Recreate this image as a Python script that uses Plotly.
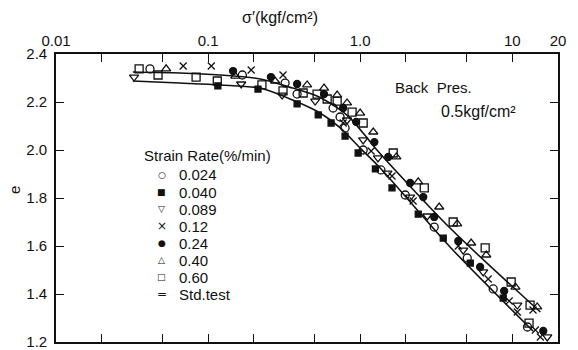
import plotly.graph_objects as go

# ---- data (sigma' in kgf/cm2, void ratio e) ----
sig_0024 = [0.0415, 0.168, 0.321, 0.385, 0.664, 0.738, 0.796, 1.047, 1.37, 1.98, 3.07, 5.06, 7.50, 12.6]
e_0024 = [2.338, 2.3125, 2.279, 2.233, 2.175, 2.1375, 2.092, 2.0, 1.917, 1.8125, 1.679, 1.55, 1.421, 1.2625]

sig_0040 = [0.116, 0.213, 0.385, 0.530, 0.644, 0.796, 0.970, 1.26, 1.62, 2.41, 3.52, 5.30, 8.73]
e_0040 = [2.267, 2.254, 2.192, 2.146, 2.1125, 2.058, 1.9875, 1.921, 1.842, 1.733, 1.633, 1.529, 1.383]

sig_0089 = [0.0326, 0.165, 0.307, 0.506, 0.820, 1.047, 1.31, 1.51, 2.13, 2.76, 4.76, 6.44, 10.8, 17.0]
e_0089 = [2.304, 2.275, 2.229, 2.204, 2.125, 2.042, 1.967, 1.904, 1.804, 1.725, 1.583, 1.492, 1.354, 1.221]

sig_012 = [0.0686, 0.105, 0.192, 0.311, 0.773, 1.18, 1.62, 2.23, 4.42, 6.95, 9.55, 10.8, 13.7, 14.2, 15.3]
e_012 = [2.350, 2.350, 2.333, 2.3125, 2.1125, 1.996, 1.892, 1.7875, 1.60, 1.4625, 1.371, 1.325, 1.333, 1.25, 1.221]

sig_024 = [0.146, 0.259, 0.385, 0.579, 0.773, 0.942, 1.24, 1.53, 2.13, 2.60, 3.07, 4.42, 6.15, 8.85, 16.0]
e_024 = [2.329, 2.304, 2.275, 2.233, 2.175, 2.117, 2.033, 1.971, 1.8625, 1.804, 1.721, 1.621, 1.5125, 1.4125, 1.246]

sig_040 = [0.0530, 0.151, 0.276, 0.448, 0.579, 0.706, 0.820, 1.0, 1.22, 1.73, 2.41, 3.31, 4.35, 5.37, 6.75, 10.5, 14.6]
e_040 = [2.338, 2.308, 2.2875, 2.271, 2.258, 2.229, 2.196, 2.154, 2.075, 1.971, 1.867, 1.7625, 1.692, 1.6125, 1.5625, 1.429, 1.346]

sig_060 = [0.0352, 0.0469, 0.0834, 0.115, 0.226, 0.311, 0.422, 0.521, 0.607, 0.706, 0.885, 1.047, 1.65, 2.64, 4.09, 6.64, 9.84, 13.1, 12.9]
e_060 = [2.338, 2.3125, 2.304, 2.2875, 2.271, 2.246, 2.2375, 2.233, 2.2125, 2.204, 2.158, 2.1125, 1.9875, 1.842, 1.70, 1.592, 1.45, 1.354, 1.279]

# standard test curves
std_upper_sig = [0.032, 0.065, 0.12, 0.22, 0.36, 0.52, 0.74, 0.86, 1.08, 1.29, 3.9, 15.3]
std_upper_e = [2.325, 2.321, 2.3125, 2.296, 2.258, 2.225, 2.167, 2.133, 2.06, 2.0, 1.675, 1.325]
std_lower_sig = [0.032, 0.065, 0.12, 0.22, 0.36, 0.545, 0.74, 1.0, 1.355, 3.9, 13.7]
std_lower_e = [2.2875, 2.279, 2.271, 2.258, 2.208, 2.154, 2.092, 2.008, 1.925, 1.596, 1.246]

x_tickvals = [0.01, 0.02, 0.05, 0.1, 0.2, 0.5, 1, 2, 5, 10, 20]
x_ticktext = ["0.01", "", "", "0.1", "", "", "1.0", "", "", "10", "20"]
y_tickvals = [1.2, 1.4, 1.6, 1.8, 2.0, 2.2, 2.4]

legend_title = "Strain Rate(%/min)"
legend_labels = ["0.024", "0.040", "0.089", "0.12", "0.24", "0.40", "0.60", "Std.test"]
legend_glyphs = ["○", "■", "▽", "×", "●", "△", "□", "="]

FONT = "Liberation Sans, Arial, sans-serif"
INK = "#111111"

series = [
    ("0.024", sig_0024, e_0024, "circle-open", 8),
    ("0.040", sig_0040, e_0040, "square", 6),
    ("0.089", sig_0089, e_0089, "triangle-down-open", 8),
    ("0.12", sig_012, e_012, "x-thin-open", 7),
    ("0.24", sig_024, e_024, "circle", 7),
    ("0.40", sig_040, e_040, "triangle-up-open", 8),
    ("0.60", sig_060, e_060, "square-open", 8),
]

fig = go.Figure()

for xs, ys in [(std_upper_sig, std_upper_e), (std_lower_sig, std_lower_e)]:
    fig.add_trace(go.Scatter(x=xs, y=ys, mode="lines", name="Std.test",
                             line=dict(color=INK, width=1.6, shape="spline", smoothing=0.8),
                             hoverinfo="skip"))

for name, xs, ys, sym, sz in series:
    fig.add_trace(go.Scatter(x=xs, y=ys, mode="markers", name=name,
                             marker=dict(symbol=sym, size=sz, color=INK,
                                         line=dict(color=INK, width=1.3))))

# ---- hand-made legend block (layout positions in paper units) ----
L_TOP, L_STEP = 0.580, 0.0592
L_SYM_X, L_TXT_X, L_TITLE_X, L_TITLE_Y = 0.211, 0.241, 0.171, 0.649


def note(text, x, y, size=15, xanchor="left", family=None, angle=0):
    f = dict(size=size)
    if family:
        f["family"] = family
    return dict(text=text, xref="paper", yref="paper", x=x, y=y, xanchor=xanchor,
                yanchor="middle", showarrow=False, font=f, textangle=angle)


annotations = [
    note("σ′(kgf/cm²)", 0.446, 1.128, size=16, xanchor="center"),
    note("Back  Pres.", 0.672, 0.885, size=15),
    note("0.5kgf/cm²", 0.762, 0.799, size=16),
    note("e", -0.0817, 0.528, size=15, xanchor="center", angle=-90),
    note(legend_title, L_TITLE_X, L_TITLE_Y, size=15),
]
for i, (lab, g) in enumerate(zip(legend_labels, legend_glyphs)):
    yy = L_TOP - i * L_STEP
    gsize = 12 if g in ("×", "=") else 9
    annotations.append(note(g, L_SYM_X, yy, size=gsize, xanchor="center", family="DejaVu Sans"))
    annotations.append(note(lab, L_TXT_X, yy, size=15))

fig.update_layout(
    width=578, height=350,
    margin=dict(l=56, r=20, t=54, b=8, autoexpand=False),
    paper_bgcolor="white", plot_bgcolor="white",
    font=dict(family=FONT, size=14, color=INK),
    showlegend=False,
    hovermode=False,
    xaxis=dict(type="log", side="top", range=[-2, 1.30103],
               tickvals=x_tickvals, ticktext=x_ticktext,
               ticks="inside", ticklen=8, tickwidth=1.2, tickcolor=INK,
               showline=True, linecolor=INK, linewidth=1.6, mirror="ticks",
               showgrid=False, zeroline=False, automargin=False,
               ticklabeloverflow="allow", tickfont=dict(size=15)),
    yaxis=dict(range=[1.2, 2.4], tickvals=y_tickvals, tickformat=".1f",
               ticks="inside", ticklen=8, tickwidth=1.2, tickcolor=INK,
               showline=True, linecolor=INK, linewidth=1.6, mirror="ticks",
               showgrid=False, zeroline=False, automargin=False,
               ticklabeloverflow="allow", ticklabelstandoff=4, tickfont=dict(size=15)),
    annotations=annotations,
)

# the page's default 8px body margin would shift the 578x350 figure; remove it
fig.write_html("out.html", config={"displayModeBar": False},
               post_script="document.body.style.margin='0px';")
